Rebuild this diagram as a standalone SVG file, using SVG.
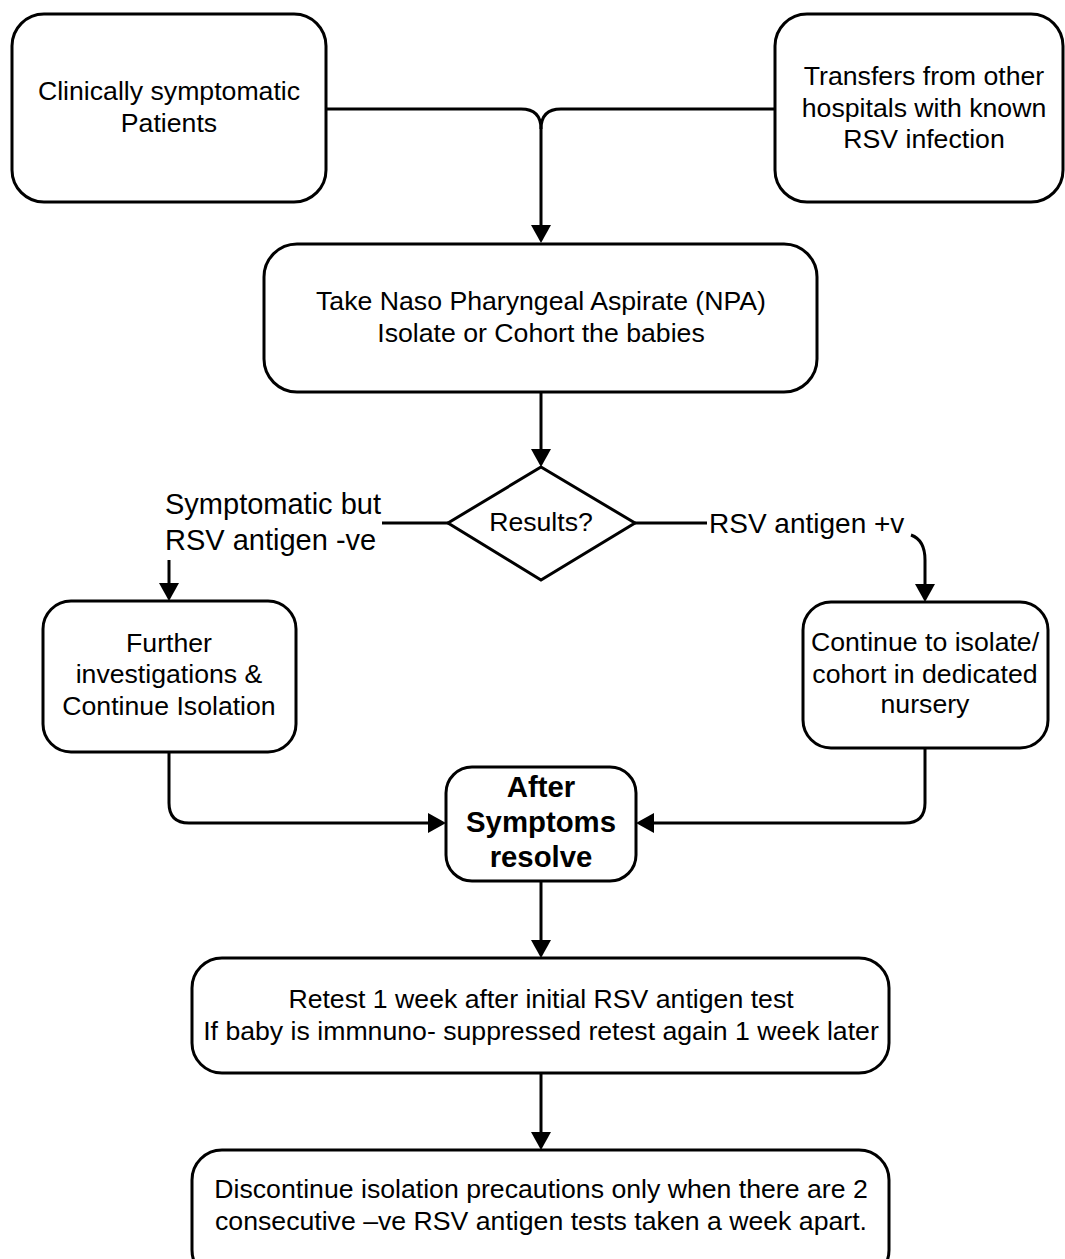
<svg xmlns="http://www.w3.org/2000/svg" width="1065" height="1259" viewBox="0 0 1065 1259">
<style>
.box{fill:#fff;stroke:#000;stroke-width:3}
.con{fill:none;stroke:#000;stroke-width:3}
text{font-family:"Liberation Sans",Arial,sans-serif;font-size:26.67px;fill:#000}
.c{text-anchor:middle}
.b{font-weight:bold;font-size:29.33px}
</style>
<defs>
<marker id="arr" markerUnits="userSpaceOnUse" markerWidth="20" markerHeight="20" viewBox="0 0 18 20" refX="12" refY="10" orient="auto">
<path d="M0,0 L18,10 L0,20 z" fill="#000"/>
</marker>
</defs>
<rect width="1065" height="1259" fill="#fff"/>
<g id="connectors">
<path class="con" d="M326 109 H521 Q541 109 541 129 V237" marker-end="url(#arr)"/>
<path class="con" d="M775 109 H561 Q541 109 541 129"/>
<path class="con" d="M541 392 V461" marker-end="url(#arr)"/>
<path class="con" d="M448 523 H382"/>
<path class="con" d="M169 560 V595" marker-end="url(#arr)"/>
<path class="con" d="M635 523 H707"/>
<path class="con" d="M911 535 Q925 540 925 560 V596" marker-end="url(#arr)"/>
<path class="con" d="M169 752 V803 Q169 823 189 823 H440" marker-end="url(#arr)"/>
<path class="con" d="M925 748 V803 Q925 823 905 823 H642" marker-end="url(#arr)"/>
<path class="con" d="M541 881 V952" marker-end="url(#arr)"/>
<path class="con" d="M541 1073 V1144" marker-end="url(#arr)"/>
<text x="165" y="514" style="font-size:29px">Symptomatic but</text>
<text x="165" y="550" style="font-size:29px">RSV antigen -ve</text>
<text x="709" y="533" style="font-size:28px">RSV antigen +v</text>
</g>
<g id="n1">
<rect class="box" x="12" y="14" width="314" height="188" rx="32"/>
<text class="c" x="169" y="100">Clinically symptomatic</text>
<text class="c" x="169" y="132">Patients</text>
</g>
<g id="n2">
<rect class="box" x="775" y="14" width="288" height="188" rx="32"/>
<text class="c" x="924" y="85">Transfers from other</text>
<text class="c" x="924" y="117">hospitals with known</text>
<text class="c" x="924" y="148">RSV infection</text>
</g>
<g id="n3">
<rect class="box" x="264" y="244" width="553" height="148" rx="33"/>
<text class="c" x="541" y="310">Take Naso Pharyngeal Aspirate (NPA)</text>
<text class="c" x="541" y="342">Isolate or Cohort the babies</text>
</g>
<g id="n4">
<polygon class="box" points="541,467 635,523 541,580 448,523"/>
<text class="c" x="541" y="531">Results?</text>
</g>
<g id="n5">
<rect class="box" x="43" y="601" width="253" height="151" rx="28"/>
<text class="c" x="169" y="652">Further</text>
<text class="c" x="169" y="683">investigations &amp;</text>
<text class="c" x="169" y="715">Continue Isolation</text>
</g>
<g id="n6">
<rect class="box" x="803" y="602" width="245" height="146" rx="28"/>
<text class="c" x="925" y="651">Continue to isolate/</text>
<text class="c" x="925" y="683">cohort in dedicated</text>
<text class="c" x="925" y="713">nursery</text>
</g>
<g id="n7">
<rect class="box" x="446" y="767" width="190" height="114" rx="26"/>
<text class="c b" x="541" y="797">After</text>
<text class="c b" x="541" y="832">Symptoms</text>
<text class="c b" x="541" y="867">resolve</text>
</g>
<g id="n8">
<rect class="box" x="192" y="958" width="697" height="115" rx="30"/>
<text class="c" x="541" y="1008">Retest 1 week after initial RSV antigen test</text>
<text class="c" x="541" y="1040">If baby is immnuno- suppressed retest again 1 week later</text>
</g>
<g id="n9">
<rect class="box" x="192" y="1150" width="697" height="130" rx="30"/>
<text class="c" x="541" y="1198">Discontinue isolation precautions only when there are 2</text>
<text class="c" x="541" y="1230">consecutive –ve RSV antigen tests taken a week apart.</text>
</g>
</svg>
